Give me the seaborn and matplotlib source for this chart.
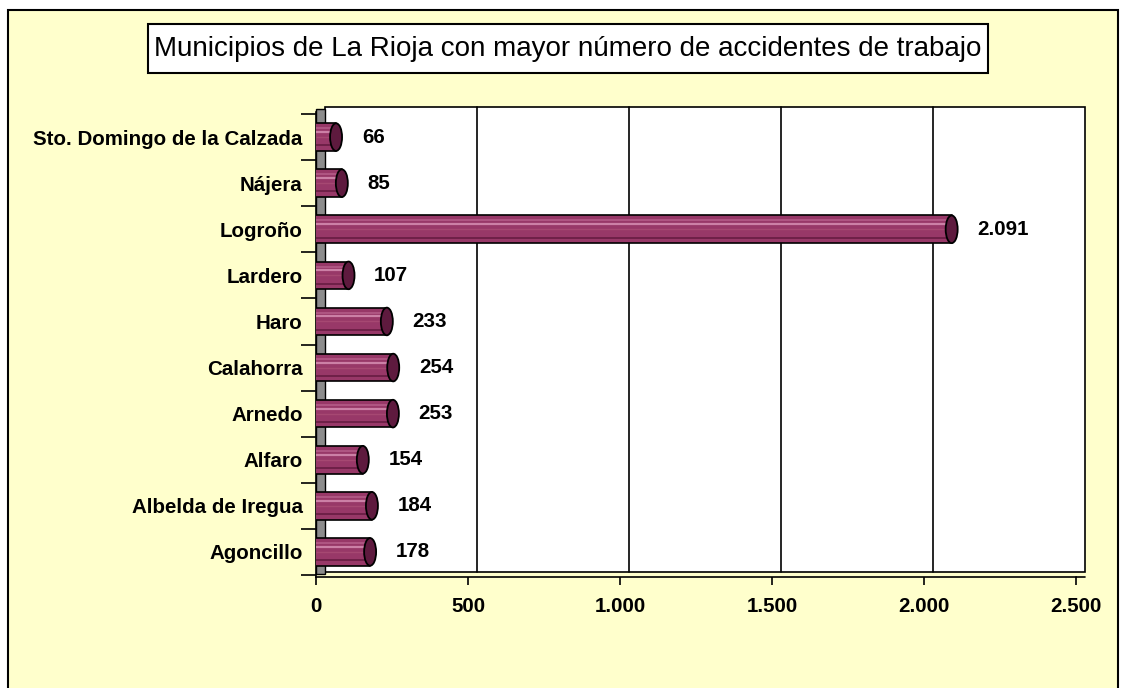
import matplotlib
matplotlib.use('Agg')
import matplotlib.pyplot as plt
import matplotlib.transforms as mtransforms
from matplotlib.patches import Rectangle, Ellipse
import pandas as pd
import seaborn as sns

# data (top to bottom as shown)
municipios = ['Sto. Domingo de la Calzada', 'Nájera', 'Logroño', 'Lardero', 'Haro',
              'Calahorra', 'Arnedo', 'Alfaro', 'Albelda de Iregua', 'Agoncillo']
accidentes = [66, 85, 2091, 107, 233, 254, 253, 154, 184, 178]
xticks = [0, 500, 1000, 1500, 2000, 2500]

df = pd.DataFrame({'municipio': municipios, 'accidentes': accidentes})

sns.set_style('white')
plt.rcParams['font.family'] = ['Liberation Sans', 'DejaVu Sans']
plt.rcParams['text.color'] = 'black'
plt.rcParams['xtick.color'] = 'black'
plt.rcParams['ytick.color'] = 'black'

fig = plt.figure(figsize=(11.22, 6.88), dpi=100)
fig.patch.set_facecolor('white')
# yellow frame
frame = Rectangle((8/1122, -0.01), 1110/1122, 1 - 10/688 + 0.01,
                  transform=fig.transFigure, facecolor='#FFFFCC',
                  edgecolor='black', lw=1.5, zorder=-5)
fig.patches.append(frame)

L, R, T, B = 316, 1076, 112, 577
ax = fig.add_axes([L/1122, 1 - B/688, (R - L)/1122, (B - T)/688])
ax.patch.set_visible(False)

body = '#983868'
sns.barplot(data=df, x='accidentes', y='municipio', order=municipios, color=body,
            width=0.6, saturation=1, edgecolor='none', ax=ax, zorder=3)

ax.set_xlim(0, 2500)
ax.set_ylim(9.5 + 0.045, -0.5 - 0.045)
ax.set_xticks(xticks)
fs = 14.8
ax.set_xticklabels([f'{v:,}'.replace(',', '.') for v in xticks], fontsize=fs, fontweight='bold')
for t in ax.get_yticklabels():
    t.set_fontsize(fs)
    t.set_fontweight('bold')
ax.set_yticks([i + 0.5 for i in range(-1, len(municipios))], minor=True)
ax.tick_params(axis='y', which='major', length=0, pad=9.5)
ax.tick_params(axis='y', which='minor', length=11, width=1.2, direction='out', left=True)
ax.tick_params(axis='x', length=6, width=1.2, direction='out', bottom=True, pad=8.5)
ax.set_xlabel('')
ax.set_ylabel('')

for s in ['top', 'right']:
    ax.spines[s].set_visible(False)
for s in ['left', 'bottom']:
    ax.spines[s].set_linewidth(1.2)
    ax.spines[s].set_color('black')

# 3D back wall (white) and gridlines, offset up-right
off = mtransforms.ScaledTranslation(9/100, 5/100, fig.dpi_scale_trans)
ax.add_patch(Rectangle((0, 0), 1, 1, transform=ax.transAxes + off, facecolor='white',
                       edgecolor='black', lw=1.2, zorder=0.5, clip_on=False))
for v in xticks[1:-1]:
    ax.plot([v, v], [0, 1], color='black', lw=1.2, transform=ax.get_xaxis_transform() + off,
            zorder=1, clip_on=False)
# floor edge at right
ax.plot([2500, 2500 + 9 / ((R - L) / 2500)], [0, 0], color='black', lw=1.2, clip_on=False,
        transform=ax.get_xaxis_transform())
# grey side wall
ax.add_patch(Rectangle((0, 0), 9/(R - L), 1, transform=ax.transAxes + mtransforms.ScaledTranslation(0, 3/100, fig.dpi_scale_trans),
                       facecolor='#8C8C8C', edgecolor='black', lw=1, zorder=2, clip_on=False))

# cylinder shading and caps
px_per_unit = (R - L) / 2500
cap_w = 12 / px_per_unit
for bar, val in zip(ax.patches[:len(accidentes)], accidentes):
    y0 = bar.get_y()
    h = bar.get_height()
    for frac, col, lw in [(0.18, '#B45C88', 1.2), (0.32, '#CC80A6', 1.6), (0.5, '#A64872', 1.0),
                          (0.8, '#6E2048', 1.4)]:
        ax.plot([0, val], [y0 + frac * h, y0 + frac * h], color=col, lw=lw, zorder=4,
                solid_capstyle='butt')
    ax.plot([0, val], [y0, y0], color='black', lw=1.2, zorder=5)
    ax.plot([0, val], [y0 + h, y0 + h], color='black', lw=1.2, zorder=5)
    ax.add_patch(Ellipse((val, y0 + h / 2), cap_w, h, facecolor='#5E1A3E',
                         edgecolor='black', lw=1.3, zorder=6))
    ax.annotate(f'{val:,}'.replace(',', '.'), (val, y0 + h / 2), xytext=(18.5, 0),
                textcoords='offset points', va='center', ha='left', fontsize=fs,
                fontweight='bold', zorder=7)

# title box
fig.patches.append(Rectangle((148/1122, 1 - 73/688), 840/1122, 49/688, transform=fig.transFigure,
                             facecolor='white', edgecolor='black', lw=1.5, zorder=1))
fig.text(568/1122, 1 - 48.5/688, 'Municipios de La Rioja con mayor número de accidentes de trabajo',
         ha='center', va='center', fontsize=20, color='black', zorder=2)

fig.savefig('out.png', dpi=100, facecolor=fig.get_facecolor())
